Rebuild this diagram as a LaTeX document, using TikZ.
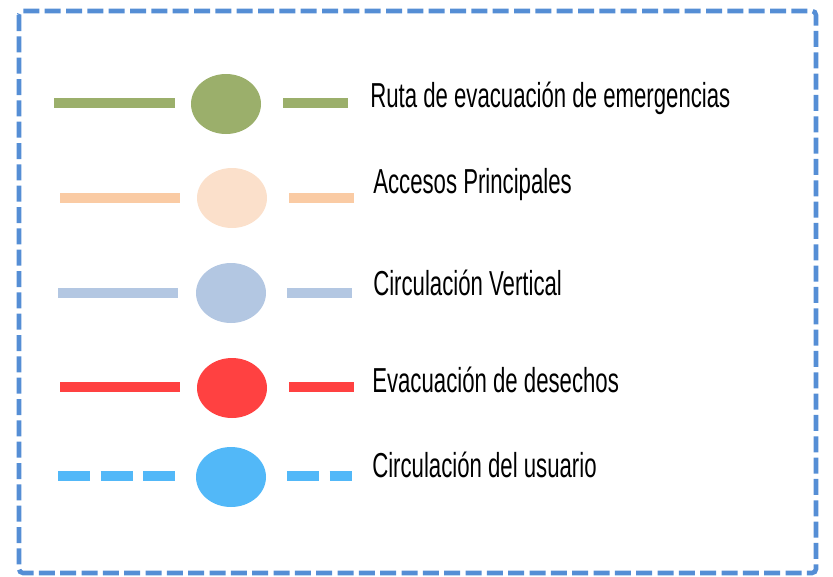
\documentclass[tikz,border=0pt]{standalone}
\usepackage{fontspec}
\setmainfont[FakeStretch=0.64]{Liberation Sans}
\usepackage{xcolor}
\usetikzlibrary{positioning,shapes.geometric}
\definecolor{lgframe}{HTML}{558ED5}
\definecolor{lgverde}{HTML}{9BAF6B}
\definecolor{lgdurazno}{HTML}{FACBA4}
\definecolor{lgduraznosoft}{HTML}{FBE0CB}
\definecolor{lgceleste}{HTML}{B3C7E2}
\definecolor{lgrojo}{HTML}{FF4141}
\definecolor{lgazul}{HTML}{52B8F8}
\tikzset{
  lgbar/.style={line width=7.5pt},
  lgdot/.style={ellipse,minimum width=52.5pt,minimum height=45pt,inner sep=0pt},
  lgtext/.style={anchor=base west,inner sep=0pt,font=\fontsize{26}{30}\selectfont},
  lgframestyle/.style={draw=lgframe,line width=3.4pt,dash pattern=on 12pt off 4pt,rounded corners=3pt}
}

\begin{document}
\begin{tikzpicture}[x=0.75pt,y=-0.75pt]
    \useasboundingbox (0,0) rectangle (833,576);
    \draw[lgframestyle] (19,11) rectangle (816,573);
    % ruta de evacuacion
    \node[lgdot,fill=lgverde] (ruta) at (226,104) {};
    \draw[lgbar,lgverde] (54,103) -- (175,103);
    \draw[lgbar,lgverde] (283,103) -- (348,103);
    \node[lgtext] (rutatxt) at (370,107) {Ruta de evacuación de emergencias};
    % accesos
    \node[lgdot,fill=lgduraznosoft] (acceso) at (232,198) {};
    \draw[lgbar,lgdurazno] (60,198) -- (180,198);
    \draw[lgbar,lgdurazno] (289,198) -- (354,198);
    \node[lgtext] (accesotxt) at (373,193) {Accesos Principales};
    % circulacion vertical
    \node[lgdot,fill=lgceleste] (vertical) at (231,293) {};
    \draw[lgbar,lgceleste] (58,293) -- (178,293);
    \draw[lgbar,lgceleste] (287,293) -- (352,293);
    \node[lgtext] (verticaltxt) at (373,295) {Circulación Vertical};
    % desechos
    \node[lgdot,fill=lgrojo] (desecho) at (232,388) {};
    \draw[lgbar,lgrojo] (60,387) -- (180,387);
    \draw[lgbar,lgrojo] (289,387) -- (354,387);
    \node[lgtext] (desechotxt) at (372,392) {Evacuación de desechos};
    % usuario
    \node[lgdot,fill=lgazul] (usuario) at (231,477) {};
    \draw[lgbar,lgazul,dash pattern=on 24pt off 8pt] (58,476) -- (176,476);
    \draw[lgbar,lgazul,dash pattern=on 24pt off 8pt] (287,476) -- (352,476);
    \node[lgtext] (usuariotxt) at (372,477) {Circulación del usuario};
\end{tikzpicture}
\end{document}
